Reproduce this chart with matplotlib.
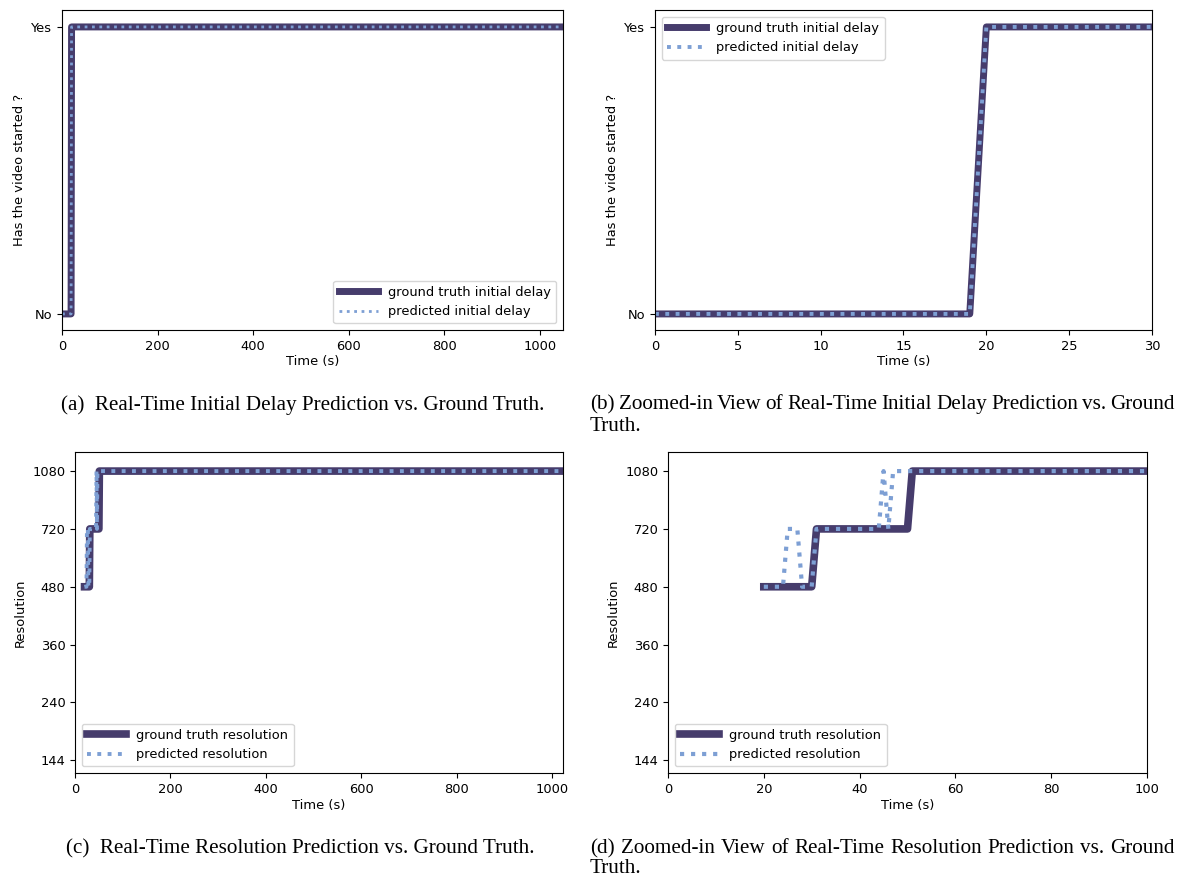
import numpy as np
import matplotlib
matplotlib.use('Agg')
from matplotlib import pyplot as plt

# initial delay: step from "No" to "Yes" (vertices)
delay_t = [0, 19, 20, 1048]
gt_delay = [0, 0, 1, 1]
pred_delay = [0, 0, 1, 1]

# resolution
res_labels = ['144', '240', '360', '480', '720', '1080']
gt_res_t = [20, 30, 31, 50, 51, 1022]
gt_res = [480, 480, 720, 720, 1080, 1080]
pred_res_t = [20, 24, 25, 27, 28, 30, 31, 44, 45, 46, 47, 1022]
pred_res = [480, 480, 720, 720, 480, 480, 720, 720, 1080, 720, 1080, 1080]

gt_color = '#463c6c'
pred_color = '#7d9fd4'

plt.rcParams['font.size'] = 9.4

fig = plt.figure(figsize=(11.78, 8.76), dpi=100)
W, H = 1178.0, 876.0


def box(left, top, right, bottom):
    return [left/W, 1-bottom/H, (right-left)/W, (bottom-top)/H]


axA = fig.add_axes(box(62, 10, 563, 330))
axB = fig.add_axes(box(655, 10, 1152, 330))
axC = fig.add_axes(box(75, 452, 563, 773))
axD = fig.add_axes(box(668, 452, 1147, 773))


def res_idx(vals):
    return [res_labels.index(str(v)) for v in vals]


# Initial delay panels
for ax, xmax, lwp, loc in [(axA, 1048, 2.0, 'lower right'), (axB, 30, 2.8, 'upper left')]:
    ax.plot(delay_t, gt_delay, color=gt_color, lw=5, label='ground truth initial delay')
    ax.plot(delay_t, pred_delay, color=pred_color, lw=lwp, ls=':', label='predicted initial delay')
    ax.set_xlim(0, xmax)
    ax.set_ylim(-0.056, 1.059)
    ax.set_yticks([0, 1])
    ax.set_yticklabels(['No', 'Yes'])
    ax.set_xlabel('Time (s)', labelpad=2)
    ax.set_ylabel('Has the video started ?')
    ax.legend(loc=loc, handlelength=3.0)

# Resolution panels
for ax, xmax, lwp in [(axC, 1022, 2.8), (axD, 100, 3.0)]:
    ax.plot(gt_res_t, res_idx(gt_res), color=gt_color, lw=5.5, label='ground truth resolution')
    ax.plot(pred_res_t, res_idx(pred_res), color=pred_color, lw=lwp, ls=':', label='predicted resolution')
    ax.set_xlim(0, xmax)
    ax.set_ylim(-0.22, 5.33)
    ax.set_yticks(range(len(res_labels)))
    ax.set_yticklabels(res_labels)
    ax.set_xlabel('Time (s)', labelpad=2)
    ax.set_ylabel('Resolution')
    ax.legend(loc='lower left', handlelength=3.0)

axA.set_xticks([0, 200, 400, 600, 800, 1000])
axC.set_xticks([0, 200, 400, 600, 800, 1000])
axB.set_xticks([0, 5, 10, 15, 20, 25, 30])
axD.set_xticks([0, 20, 40, 60, 80, 100])

# captions
cap = dict(family=['Liberation Serif', 'DejaVu Serif'], fontsize=15.2, va='baseline')
renderer = fig.canvas.get_renderer()


def justified(words, x0, x1, y):
    # spread the words so the line fills x0..x1 (like the LaTeX caption)
    texts = [fig.text(0, 1-y/H, w, ha='left', **cap) for w in words]
    widths = [t.get_window_extent(renderer).width for t in texts]
    gap = (x1 - x0 - sum(widths)) / (len(words) - 1)
    x = x0
    for t, w in zip(texts, widths):
        t.set_x(x/W)
        x += w + gap


fig.text(303/W, 1-410/H, '(a)  Real-Time Initial Delay Prediction vs. Ground Truth.', ha='center', **cap)
justified('(b) Zoomed-in View of Real-Time Initial Delay Prediction vs. Ground'.split(), 590, 1175, 409)
fig.text(590/W, 1-431/H, 'Truth.', ha='left', **cap)
fig.text(300/W, 1-853/H, '(c)  Real-Time Resolution Prediction vs. Ground Truth.', ha='center', **cap)
justified('(d) Zoomed-in View of Real-Time Resolution Prediction vs. Ground'.split(), 590, 1175, 853)
fig.text(590/W, 1-873/H, 'Truth.', ha='left', **cap)

fig.savefig('out.png', dpi=100)
